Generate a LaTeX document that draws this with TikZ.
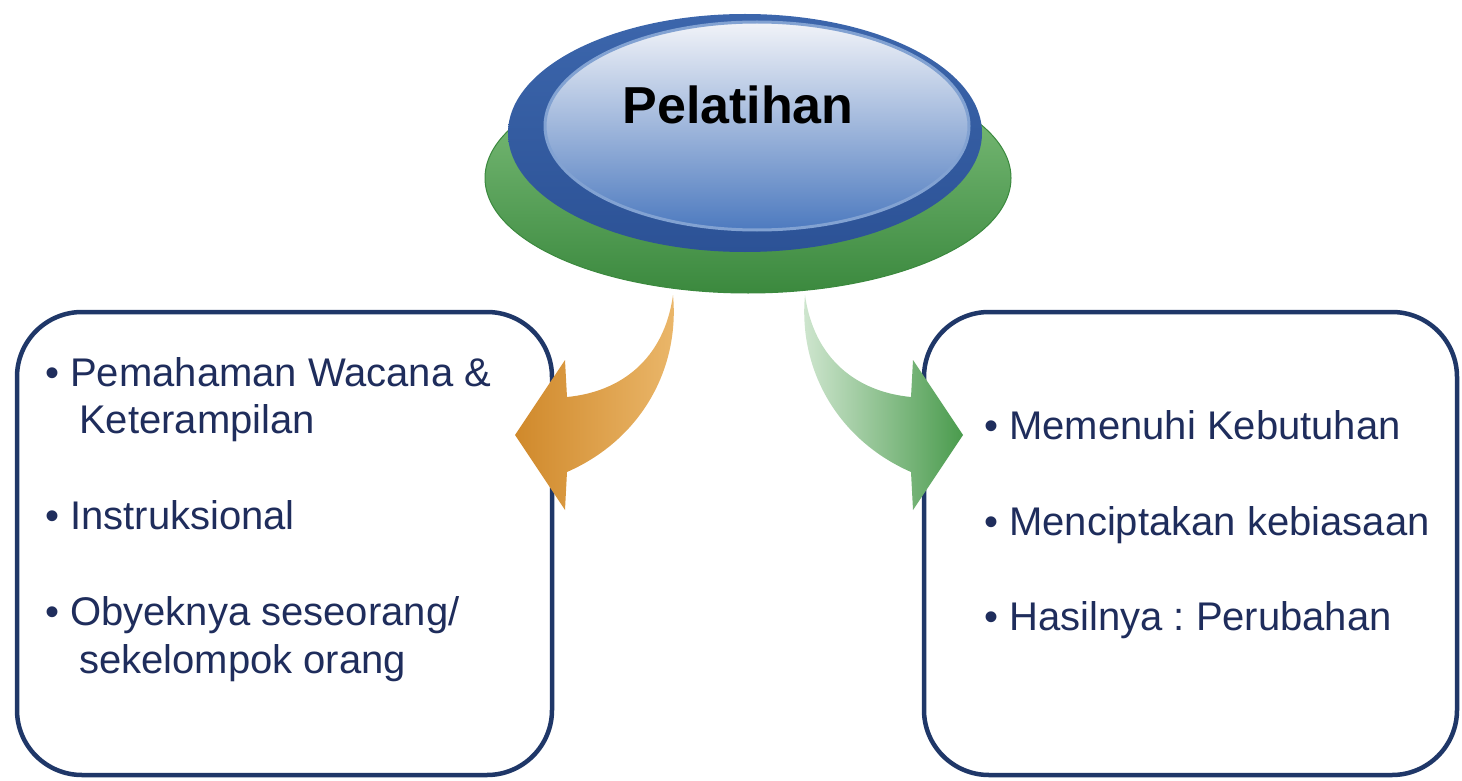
\documentclass[tikz,border=0pt]{standalone}
\usepackage{fontspec}
\setmainfont{Liberation Sans}
\frenchspacing

\begin{document}
\begin{tikzpicture}[x=1pt,y=-1pt,
  itembox/.style={draw=navy,line width=4.5pt,rounded corners=65pt,fill=white,
    minimum width=535pt,minimum height=463pt},
  itemtext/.style={anchor=base west,inner sep=0pt,text=inktext,
    font=\fontsize{40}{48}\selectfont}]
\definecolor{navy}{HTML}{1F3768}
\definecolor{inktext}{HTML}{1F2D5C}
\definecolor{orangedark}{HTML}{D0892B}
\definecolor{orangelight}{HTML}{EBB86C}
\definecolor{leafpale}{HTML}{D3E8D3}
\definecolor{leafdark}{HTML}{4A9B4D}
\definecolor{basetop}{HTML}{85C482}
\definecolor{basebottom}{HTML}{3B893E}
\definecolor{capdark}{HTML}{2C5296}
\definecolor{capmid}{HTML}{3C66AC}
\definecolor{facetop}{HTML}{F1F3F8}
\definecolor{facebottom}{HTML}{4D7ABF}
\useasboundingbox (0,0) rectangle (1462,781);
% boxes
\node[itembox] (leftbox) at (284.5,543.5) {};
\node[itembox,minimum width=533pt] (rightbox) at (1190.5,543.5) {};
% arrows
\shade[left color=orangedark,right color=orangelight]
  (673,295) .. controls (664,360) and (620,392) .. (567,397) -- (565,360)
  -- (515,435) -- (565,510) -- (567,472) .. controls (640,440) and (680,370) .. cycle;
\shade[left color=leafpale,right color=leafdark]
  (805,295) .. controls (814,360) and (858,392) .. (911,397) -- (913,360)
  -- (963,435) -- (913,510) -- (911,472) .. controls (838,440) and (798,370) .. cycle;
% button
\shade[top color=basetop,bottom color=basebottom,draw=basebottom,line width=1pt]
  (748,178) ellipse [x radius=263, y radius=115];
\shade[top color=capmid,bottom color=capdark]
  (745,133) ellipse [x radius=237, y radius=119];
\shade[top color=facetop,bottom color=facebottom,draw=facebottom!70!white,line width=3pt]
  (757,126) ellipse [x radius=212, y radius=104];
\node[anchor=base,inner sep=0pt,font=\fontsize{52}{60}\selectfont\bfseries] (title) at (738,124) {Pelatihan};
% items
\foreach \name/\xpos/\ypos/\txt in {pa/45/386/{• Pemahaman Wacana \&},pb/79/433/{Keterampilan},
    pc/45/529/{• Instruksional},pd/45/625/{• Obyeknya seseorang/},pe/79/673/{sekelompok orang},
    qa/984/439/{• Memenuhi Kebutuhan},qb/984/535/{• Menciptakan kebiasaan},qc/984/630/{• Hasilnya : Perubahan}}
  {\node[itemtext] (\name) at (\xpos,\ypos) {\txt};}
\end{tikzpicture}
\end{document}
